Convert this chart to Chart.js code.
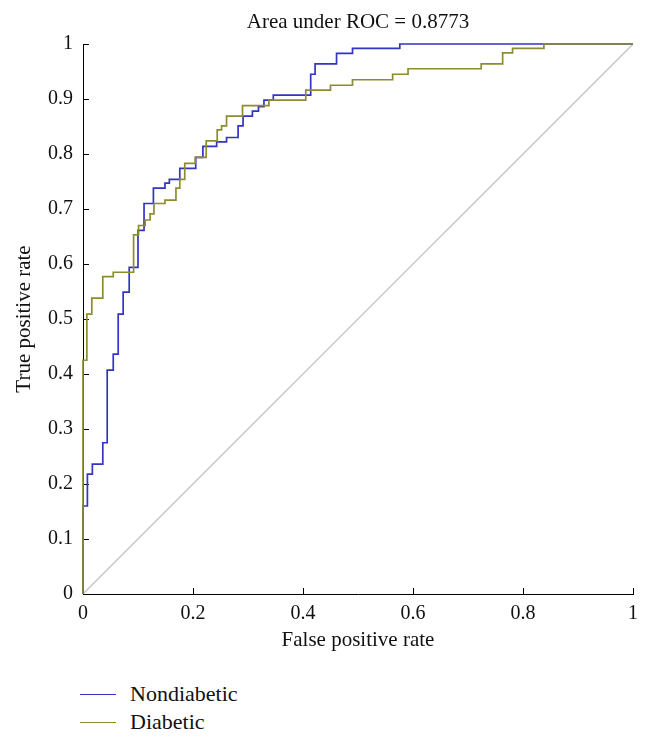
<!DOCTYPE html>
<html>
<head>
<meta charset="utf-8">
<title>ROC curve</title>
<script src="https://cdn.jsdelivr.net/npm/chart.js@4.4.1/dist/chart.umd.min.js"></script>
<style>
  body { margin: 0; background: #fff; }
  #wrap { position: relative; width: 651px; height: 743px; overflow: hidden; background: #fff; }
  #legend { position: absolute; left: 80px; top: 680px; font-family: "Liberation Serif", "DejaVu Serif", serif; font-size: 22px; color: #111; }
  .item { display: flex; align-items: center; height: 28px; }
  .swatch { width: 36px; height: 0; border-top: 1.5px solid; margin-right: 14px; }
</style>
</head>
<body>
<div id="wrap">
  <canvas id="roc" width="651" height="670"></canvas>
  <div id="legend"></div>
</div>
<script>
// ROC points (x = false positive rate, y = true positive rate after each rise)
const nondiabeticFpr = [0, 0, 0.008, 0.017, 0.036, 0.044, 0.055, 0.064, 0.073, 0.084, 0.100, 0.111, 0.128, 0.149, 0.157, 0.176, 0.205, 0.218, 0.243, 0.261, 0.282, 0.291, 0.308, 0.319, 0.329, 0.346, 0.414, 0.422, 0.461, 0.490, 0.576, 1];
const nondiabeticTpr = [0, 0.160, 0.218, 0.236, 0.275, 0.407, 0.436, 0.509, 0.549, 0.594, 0.661, 0.710, 0.738, 0.747, 0.754, 0.774, 0.794, 0.814, 0.822, 0.830, 0.851, 0.869, 0.878, 0.886, 0.898, 0.907, 0.945, 0.964, 0.983, 0.992, 1, 1];

const diabeticFpr = [0, 0, 0.007, 0.016, 0.036, 0.055, 0.092, 0.101, 0.113, 0.122, 0.129, 0.149, 0.169, 0.176, 0.185, 0.204, 0.224, 0.244, 0.252, 0.261, 0.290, 0.338, 0.405, 0.450, 0.490, 0.563, 0.591, 0.724, 0.763, 0.781, 0.838, 1];
const diabeticTpr = [0, 0.425, 0.509, 0.538, 0.577, 0.585, 0.653, 0.670, 0.680, 0.691, 0.710, 0.716, 0.738, 0.754, 0.783, 0.794, 0.824, 0.844, 0.851, 0.869, 0.888, 0.898, 0.916, 0.925, 0.935, 0.945, 0.955, 0.964, 0.984, 0.992, 1, 1];

const chanceLine = [0, 1];

const xTicks = [0, 0.2, 0.4, 0.6, 0.8, 1];
const yTicks = [0, 0.1, 0.2, 0.3, 0.4, 0.5, 0.6, 0.7, 0.8, 0.9, 1];

const seriesNames = ['Nondiabetic', 'Diabetic'];
const seriesColors = ['#3333c4', '#8c8c30'];

const toPoints = (xs, ys) => xs.map((x, i) => ({ x: x, y: ys[i] }));

Chart.defaults.font.family = '"Liberation Serif", "DejaVu Serif", serif';
Chart.defaults.color = '#111';

// small tick marks pointing into the plot, like the original
const inwardTicks = {
  id: 'inwardTicks',
  beforeDatasetsDraw(chart) {
    const { ctx, chartArea, scales } = chart;
    ctx.save();
    ctx.strokeStyle = '#000';
    ctx.lineWidth = 1;
    ctx.beginPath();
    xTicks.forEach(v => {
      const px = Math.round(scales.x.getPixelForValue(v)) + 0.5;
      ctx.moveTo(px, chartArea.bottom);
      ctx.lineTo(px, chartArea.bottom - 6);
    });
    yTicks.forEach(v => {
      const py = Math.round(scales.y.getPixelForValue(v)) + 0.5;
      ctx.moveTo(chartArea.left, py);
      ctx.lineTo(chartArea.left + 6, py);
    });
    ctx.stroke();
    ctx.restore();
  }
};

const fmt = v => String(Math.round(v * 10) / 10);

new Chart(document.getElementById('roc'), {
  type: 'line',
  data: {
    datasets: [
      {
        label: seriesNames[0],
        data: toPoints(nondiabeticFpr, nondiabeticTpr),
        borderColor: seriesColors[0],
        borderWidth: 1.7,
        stepped: 'before',
        pointRadius: 0,
        fill: false,
        clip: 4,
        order: 1
      },
      {
        label: seriesNames[1],
        data: toPoints(diabeticFpr, diabeticTpr),
        borderColor: seriesColors[1],
        borderWidth: 1.7,
        stepped: 'before',
        pointRadius: 0,
        fill: false,
        clip: 4,
        order: 0
      },
      {
        label: 'Chance',
        data: toPoints(chanceLine, chanceLine),
        borderColor: '#c4c4c4',
        borderWidth: 1.3,
        pointRadius: 0,
        fill: false,
        order: 2
      }
    ]
  },
  options: {
    responsive: false,
    animation: false,
    layout: { padding: { top: 0, right: 18, bottom: 0, left: 0 } },
    plugins: {
      legend: { display: false },
      tooltip: { enabled: false },
      title: {
        display: true,
        text: 'Area under ROC = 0.8773',
        fullSize: false,
        color: '#111',
        font: { size: 21, weight: 'normal', lineHeight: 1.2 },
        padding: { top: 10, bottom: 8.8 }
      }
    },
    scales: {
      x: {
        type: 'linear',
        min: 0,
        max: 1,
        afterFit: s => { s.height = 76; },
        afterBuildTicks: s => { s.ticks = xTicks.map(v => ({ value: v })); },
        ticks: { callback: fmt, font: { size: 20 }, padding: 8, maxRotation: 0, color: '#111' },
        grid: { display: false, drawTicks: false },
        border: { display: true, color: '#000', width: 1 },
        title: {
          display: true,
          text: 'False positive rate',
          color: '#111',
          font: { size: 21 },
          padding: { top: 0, bottom: 17 }
        }
      },
      y: {
        type: 'linear',
        min: 0,
        max: 1,
        afterFit: s => { s.width = 83; },
        afterBuildTicks: s => { s.ticks = yTicks.map(v => ({ value: v })); },
        ticks: { callback: fmt, font: { size: 20 }, padding: 10, color: '#111' },
        grid: { display: false, drawTicks: false },
        border: { display: true, color: '#000', width: 1 },
        title: {
          display: true,
          text: 'True positive rate',
          color: '#111',
          font: { size: 21 },
          padding: { top: 12, bottom: 0 }
        }
      }
    }
  },
  plugins: [inwardTicks]
});

// legend stacked under the plot
const legend = document.getElementById('legend');
seriesNames.forEach((name, i) => {
  const row = document.createElement('div');
  row.className = 'item';
  const sw = document.createElement('span');
  sw.className = 'swatch';
  sw.style.borderTopColor = seriesColors[i];
  const txt = document.createElement('span');
  txt.textContent = name;
  row.appendChild(sw);
  row.appendChild(txt);
  legend.appendChild(row);
});
</script>
</body>
</html>
